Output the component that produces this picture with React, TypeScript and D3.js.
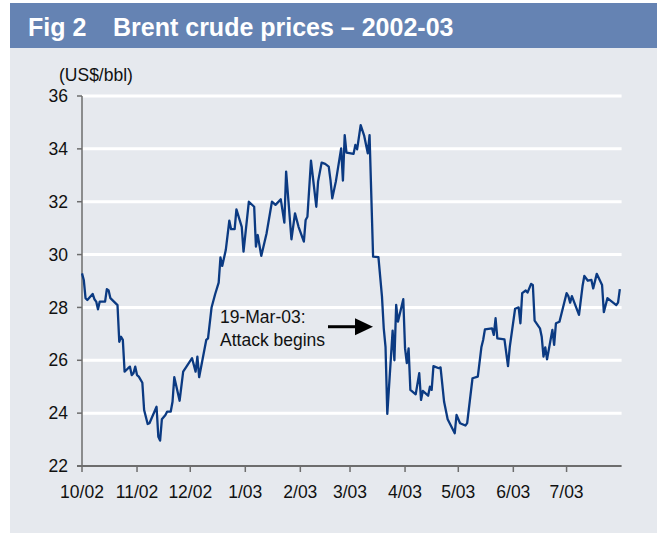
import React from "react";
import * as d3 from "d3";

const dates: string[] = [
  "2002-10-01","2002-10-02","2002-10-03","2002-10-04","2002-10-07","2002-10-08","2002-10-09","2002-10-10","2002-10-11","2002-10-14",
  "2002-10-15","2002-10-16","2002-10-17","2002-10-19","2002-10-21","2002-10-22","2002-10-23","2002-10-24","2002-10-25","2002-10-27",
  "2002-10-28","2002-10-29","2002-10-30","2002-10-31","2002-11-01","2002-11-02","2002-11-04","2002-11-05","2002-11-07","2002-11-08",
  "2002-11-12","2002-11-13","2002-11-14","2002-11-15","2002-11-17","2002-11-18","2002-11-20","2002-11-21","2002-11-22","2002-11-25",
  "2002-11-27","2002-12-02","2002-12-04","2002-12-05","2002-12-06","2002-12-10","2002-12-11","2002-12-13","2002-12-15","2002-12-17",
  "2002-12-18","2002-12-19","2002-12-21","2002-12-23","2002-12-24","2002-12-26","2002-12-27","2002-12-30","2002-12-31","2003-01-03",
  "2003-01-06","2003-01-07","2003-01-08","2003-01-10","2003-01-13","2003-01-16","2003-01-18","2003-01-21","2003-01-23","2003-01-24",
  "2003-01-27","2003-01-29","2003-01-31","2003-02-03","2003-02-04","2003-02-05","2003-02-07","2003-02-10","2003-02-11","2003-02-13",
  "2003-02-15","2003-02-17","2003-02-18","2003-02-19","2003-02-21","2003-02-24","2003-02-25","2003-02-26","2003-02-27","2003-03-03",
  "2003-03-04","2003-03-05","2003-03-07","2003-03-09","2003-03-11","2003-03-12","2003-03-14","2003-03-17","2003-03-19","2003-03-20",
  "2003-03-21","2003-03-22","2003-03-25","2003-03-26","2003-03-27","2003-03-28","2003-03-31","2003-04-01","2003-04-02","2003-04-03",
  "2003-04-04","2003-04-07","2003-04-09","2003-04-10","2003-04-11","2003-04-14","2003-04-15","2003-04-16","2003-04-17","2003-04-20",
  "2003-04-21","2003-04-23","2003-04-25","2003-04-29","2003-04-30","2003-05-02","2003-05-05","2003-05-06","2003-05-09","2003-05-12",
  "2003-05-14","2003-05-15","2003-05-16","2003-05-20","2003-05-21","2003-05-22","2003-05-23","2003-05-27","2003-05-29","2003-05-30",
  "2003-06-02","2003-06-04","2003-06-05","2003-06-06","2003-06-08","2003-06-09","2003-06-11","2003-06-12","2003-06-13","2003-06-16",
  "2003-06-17","2003-06-18","2003-06-19","2003-06-20","2003-06-23","2003-06-24","2003-06-25","2003-06-27","2003-06-29","2003-07-01",
  "2003-07-02","2003-07-03","2003-07-04","2003-07-08","2003-07-10","2003-07-11","2003-07-13","2003-07-15","2003-07-16","2003-07-18",
  "2003-07-21","2003-07-22","2003-07-24","2003-07-29","2003-07-30","2003-07-31"
];

const prices: number[] = [
  29.29,29.04,28.35,28.28,28.51,28.31,28.22,27.93,28.22,28.22,
  28.69,28.64,28.35,28.22,28.09,26.70,26.89,26.77,25.57,25.70,
  25.76,25.44,25.51,25.76,25.44,25.38,25.15,24.12,23.59,23.62,
  24.24,23.11,22.96,23.77,23.93,24.06,24.06,24.43,25.36,24.47,
  25.57,26.08,25.57,26.14,25.36,26.77,26.83,28.00,28.50,28.94,
  29.89,29.57,30.17,31.28,30.96,30.96,31.71,31.05,30.11,32.00,
  31.81,30.30,30.74,29.95,30.81,32.00,31.88,32.09,31.21,33.14,
  30.58,31.56,31.05,30.49,31.31,31.43,33.55,31.81,32.76,33.48,
  33.43,33.33,32.82,32.13,32.76,34.02,32.80,34.52,33.86,33.81,
  34.15,33.98,34.90,34.49,33.83,34.52,29.92,29.90,28.41,27.21,
  26.51,23.97,27.12,26.00,28.10,27.46,28.31,26.45,25.89,26.45,
  24.88,24.71,25.51,24.50,24.84,24.66,25.00,24.88,25.78,25.70,
  25.73,24.43,23.77,23.24,23.93,23.62,23.53,23.62,25.32,25.38,
  26.49,26.77,27.17,27.21,26.96,27.59,26.83,26.79,25.78,26.51,
  27.95,28.00,27.40,28.54,28.64,28.56,28.89,28.85,27.50,27.21,
  26.89,26.14,26.49,26.04,27.15,26.58,27.40,27.46,28.00,28.54,
  28.43,28.18,28.43,27.72,28.81,29.19,29.01,29.04,28.72,29.27,
  28.85,27.82,28.35,28.09,28.18,28.69
];

const yTicks: number[] = [22, 24, 26, 28, 30, 32, 34, 36];
const xDomain: string[] = ["2002-10-01", "2003-08-01"];
const titleFig = "Fig 2";
const titleText = "Brent crude prices – 2002-03";
const unitLabel = "(US$/bbl)";
const annotationLines: string[] = ["19-Mar-03:", "Attack begins"];
const annotationDate = "2003-03-19";
const annotationValue = 27.27;

const FONT = "'Liberation Sans', Arial, Helvetica, sans-serif";

export default function App() {
  const W = 657, H = 535;
  const parse = d3.timeParse("%Y-%m-%d");
  const data = dates.map((d, i) => ({ date: parse(d) as Date, value: prices[i] }));

  const x = d3.scaleTime()
    .domain([parse(xDomain[0]) as Date, parse(xDomain[1]) as Date])
    .range([82, 621.6]);
  const y = d3.scaleLinear().domain([22, 36]).range([466, 96]);

  const monthTicks = d3.timeMonth.range(parse(xDomain[0]) as Date, parse(xDomain[1]) as Date);
  const fmt = d3.timeFormat("%-m/%y");

  const line = d3.line<{ date: Date; value: number }>()
    .x(d => x(d.date))
    .y(d => y(d.value))
    .curve(d3.curveLinear);

  const tipX = x(parse(annotationDate) as Date) - 9;
  const tipY = y(annotationValue);

  return (
    <div style={{ position: "fixed", left: 0, top: 0 }}>
      <svg width={W} height={H} style={{ display: "block" }}>
        <rect x={0} y={0} width={W} height={H} fill="#ffffff" />
        <rect x={10} y={3} width={W - 10} height={45} fill="#6583b3" />
        <rect x={10} y={48} width={W - 10} height={485} fill="#e6e9ee" />
        <text x={28} y={36} fill="#ffffff" fontFamily={FONT} fontWeight="bold" fontSize={25}>{titleFig}</text>
        <text x={113} y={36} fill="#ffffff" fontFamily={FONT} fontWeight="bold" fontSize={25}>{titleText}</text>

        <text x={59} y={81} fill="#111" fontFamily={FONT} fontSize={17.5}>{unitLabel}</text>

        {yTicks.filter(t => t !== 22).map(t => (
          <line key={"g" + t} x1={82} x2={621.6} y1={y(t)} y2={y(t)} stroke="#ffffff" strokeWidth={3} />
        ))}

        {yTicks.map(t => (
          <g key={"y" + t}>
            <line x1={77} x2={82} y1={y(t)} y2={y(t)} stroke="#6d6d6d" strokeWidth={1.5} />
            <text x={68} y={y(t)} dy="0.35em" textAnchor="end" fill="#111" fontFamily={FONT} fontSize={17.5}>{t}</text>
          </g>
        ))}

        <line x1={82} x2={82} y1={y(36)} y2={y(22)} stroke="#6d6d6d" strokeWidth={1.5} />
        <line x1={77} x2={621.6} y1={y(22)} y2={y(22)} stroke="#6d6d6d" strokeWidth={2} />

        {monthTicks.map(m => (
          <g key={m.toISOString()}>
            <line x1={x(m)} x2={x(m)} y1={y(22)} y2={y(22) + 6} stroke="#6d6d6d" strokeWidth={1.5} />
            <text x={x(m)} y={498} textAnchor="middle" fill="#111" fontFamily={FONT} fontSize={17.5}>{fmt(m)}</text>
          </g>
        ))}

        <path d={line(data) || ""} fill="none" stroke="#0b3a82" strokeWidth={2.3} strokeLinejoin="round" />

        <text x={220} y={323} fill="#111" fontFamily={FONT} fontSize={17.5}>{annotationLines[0]}</text>
        <text x={220} y={346} fill="#111" fontFamily={FONT} fontSize={17.5}>{annotationLines[1]}</text>
        <line x1={328} x2={tipX - 14} y1={tipY} y2={tipY} stroke="#000" strokeWidth={3} />
        <path d={`M${tipX},${tipY} L${tipX - 18},${tipY - 8.5} L${tipX - 18},${tipY + 8.5} Z`} fill="#000" />
      </svg>
    </div>
  );
}
